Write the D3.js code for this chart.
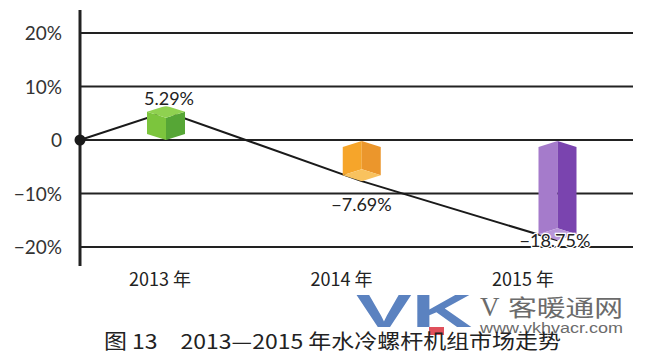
<!DOCTYPE html>
<html><head><meta charset="utf-8">
<script src="https://cdn.jsdelivr.net/npm/d3@7"></script>
<style>body{margin:0;background:#fff}svg{display:block}</style>
</head><body><svg id="c" width="646" height="359"></svg>
<script>
const categories = ["2013 年", "2014 年", "2015 年"];
const values = [5.29, -7.69, -18.75];
const valueLabels = ["5.29%", "−7.69%", "−18.75%"];
const yTicks = [20, 10, 0, -10, -20];
const yTickLabels = ["20%", "10%", "0", "−10%", "−20%"];
const cubeColors = [
  {face:"#8fd150", left:"#7cc53d", right:"#56a636"},
  {face:"#f9c25e", left:"#f6a52a", right:"#eb962c"},
  {face:"#b896d9", left:"#a57bcb", right:"#7a44af"}
];
const title = "图 13　2013—2015 年水冷螺杆机组市场走势";

const svg = d3.select("#c");
const y = d3.scaleLinear().domain([-20, 20]).range([247, 33]);
const x = d3.scalePoint().domain(categories).range([166, 557.5]);
const xLab = d3.scalePoint().domain(categories).range([160, 523]);
const axisX = 80, gridEnd = 633;
const numFont = "Lato, 'DejaVu Sans', sans-serif";
const cjkFont = "'Noto Sans CJK SC', sans-serif";

// gridlines
svg.append("g").selectAll("line").data(yTicks).join("line")
  .attr("x1", axisX).attr("x2", gridEnd)
  .attr("y1", d => y(d)).attr("y2", d => y(d))
  .attr("stroke", "#222").attr("stroke-width", 2);

// y tick labels
svg.append("g").selectAll("text").data(yTicks).join("text")
  .attr("x", 62).attr("y", d => y(d) + 7)
  .attr("text-anchor", "end")
  .attr("font-family", numFont).attr("font-size", 19)
  .attr("fill", "#333")
  .text((d, i) => yTickLabels[i]);

// y axis
svg.append("line").attr("x1", axisX).attr("x2", axisX).attr("y1", 10).attr("y2", 266)
  .attr("stroke", "#222").attr("stroke-width", 3);

// trend line
const pts = [[axisX, y(0)]].concat(categories.map((c, i) => [x(c), y(values[i])]));
svg.append("path").attr("d", d3.line()(pts))
  .attr("fill", "none").attr("stroke", "#1a1a1a").attr("stroke-width", 2);

// cubes
const w = 38, hw = w / 2, d = 6;
categories.forEach((c, i) => {
  const v = values[i], cx = x(c), yv = y(v), y0 = y(0), col = cubeColors[i];
  const g = svg.append("g");
  const poly = (p, f) => g.append("polygon").attr("points", p.map(q => q.join(",")).join(" ")).attr("fill", f);
  if (v >= 0) {
    poly([[cx - hw, yv], [cx, yv + d], [cx, y0], [cx - hw, y0 - d]], col.left);
    poly([[cx, yv + d], [cx + hw, yv], [cx + hw, y0 - d], [cx, y0]], col.right);
    poly([[cx, yv - d], [cx + hw, yv], [cx, yv + d], [cx - hw, yv]], col.face);
  } else {
    const top = y0 + 1;
    poly([[cx - hw, top + d], [cx, top], [cx, yv - 2 * d], [cx - hw, yv - d]], col.left);
    poly([[cx, top], [cx + hw, top + d], [cx + hw, yv - d], [cx, yv - 2 * d]], col.right);
    poly([[cx, yv - 2 * d], [cx + hw, yv - d], [cx, yv], [cx - hw, yv - d]], col.face);
  }
});

// origin dot
svg.append("circle").attr("cx", axisX).attr("cy", y(0)).attr("r", 5.5).attr("fill", "#1a1a1a");

// value labels
const labelPos = [[169, y(values[0]) - 7], [361.5, y(values[1]) + 30], [555, y(values[2]) + 7]];
svg.append("g").selectAll("text").data(valueLabels).join("text")
  .attr("x", (d, i) => labelPos[i][0]).attr("y", (d, i) => labelPos[i][1])
  .attr("text-anchor", "middle")
  .attr("font-family", numFont).attr("font-size", 18)
  .attr("fill", "#222")
  .attr("stroke", "#fff").attr("stroke-width", 2.5).attr("paint-order", "stroke")
  .text(d => d);

// category labels
svg.append("g").selectAll("text").data(categories).join("text")
  .attr("x", d => xLab(d)).attr("y", 286)
  .attr("text-anchor", "middle")
  .attr("font-family", cjkFont).attr("font-size", 18)
  .attr("fill", "#222")
  .text(d => d);

// watermark
const wm = svg.append("g");
wm.append("text").attr("x", 356).attr("y", 327)
  .attr("font-family", "'Liberation Sans', Arial, sans-serif").attr("font-weight", 700)
  .attr("font-size", 46).attr("fill", "#5b82c0").attr("textLength", 116).attr("lengthAdjust", "spacingAndGlyphs")
  .text("VK");
wm.append("rect").attr("x", 429).attr("y", 327).attr("width", 15).attr("height", 8).attr("fill", "#e0505c");
wm.append("text").attr("x", 480).attr("y", 316)
  .attr("font-family", "'Liberation Serif', serif").attr("font-size", 27).attr("fill", "#6b6b6b")
  .text("V");
wm.append("text").attr("x", 508).attr("y", 316)
  .attr("font-family", cjkFont).attr("font-size", 23).attr("fill", "#6b6b6b")
  .attr("textLength", 115).attr("lengthAdjust", "spacingAndGlyphs")
  .text("客暖通网");
wm.append("text").attr("x", 480).attr("y", 333)
  .attr("font-family", "'Liberation Sans', Arial, sans-serif").attr("font-size", 14).attr("fill", "#6b6b6b")
  .attr("textLength", 143).attr("lengthAdjust", "spacingAndGlyphs")
  .text("www.vkhvacr.com");

// title
svg.append("text").attr("x", 104).attr("y", 349)
  .attr("font-family", cjkFont).attr("font-size", 20).attr("fill", "#222")
  .attr("textLength", 457).attr("lengthAdjust", "spacingAndGlyphs")
  .text(title);
</script></body></html>
